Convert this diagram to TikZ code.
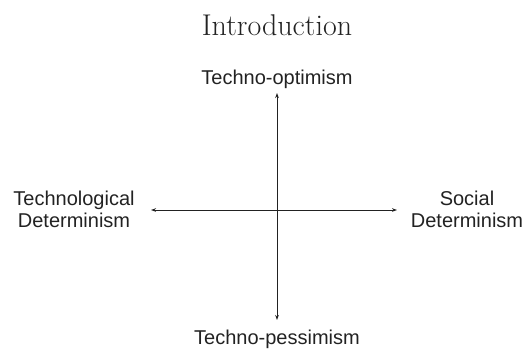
\documentclass[tikz,border=0pt]{standalone}
\usepackage{fontspec}
\setsansfont{Liberation Sans}
\usetikzlibrary{arrows.meta}
\definecolor{ink}{HTML}{222222}
\tikzset{
  lbl/.style={font=\sffamily\fontsize{20}{22}\selectfont, text=ink, inner sep=0pt, align=center},
  axis/.style={draw=ink, line width=0.9pt, {Stealth[length=5pt,width=3.6pt]}-{Stealth[length=5pt,width=3.6pt]}},
  ttl/.style={font=\fontsize{30}{34}\selectfont, text=ink, inner sep=0pt}
}
\begin{document}
\begin{tikzpicture}[x=1pt,y=-1pt]
\useasboundingbox (0,0) rectangle (527,349);
\node[ttl, anchor=base] (title) at (277,35) {Introduction};
\node[lbl, anchor=base] (top) at (277,84) {Techno-optimism};
\node[lbl, anchor=base] (bot) at (277,344) {Techno-pessimism};
\node[lbl] (left) at (74,209) {Technological\\Determinism};
\node[lbl] (right) at (467,209) {Social\\Determinism};
\coordinate (vt) at (277,93);
\coordinate (vb) at (277,320);
\coordinate (hl) at (151,210);
\coordinate (hr) at (397,210);
\draw[axis] (vt) -- (vb);
\draw[axis] (hl) -- (hr);
\end{tikzpicture}
\end{document}
